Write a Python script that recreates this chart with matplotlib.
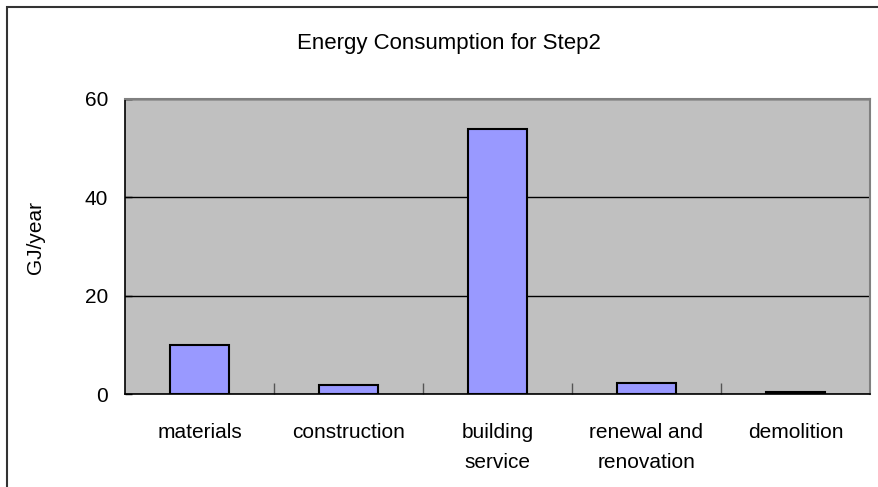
import matplotlib
matplotlib.use("Agg")
import matplotlib.pyplot as plt
from matplotlib.patches import Rectangle
import numpy as np

categories = ["materials", "construction", "building\nservice",
              "renewal and\nrenovation", "demolition"]
energy_gj = [10.0, 1.8, 53.9, 2.3, 0.35]
y_ticks = [0, 20, 40, 60]

plt.rcParams["font.family"] = ["Liberation Sans", "DejaVu Sans"]

W, H = 879, 487
fig = plt.figure(figsize=(W / 100, H / 100), dpi=100)

# outer chart border (right/bottom edges fall outside the crop)
fig.add_artist(Rectangle((7 / W, -0.5), 2.0, 0.5 + (H - 7) / H,
                         transform=fig.transFigure, fill=False,
                         edgecolor="#333333", linewidth=1.5))

ax = fig.add_axes([125 / W, (H - 394) / H, 745 / W, 295 / H])
ax.set_facecolor("#C0C0C0")

x = np.arange(len(categories))
ax.bar(x, energy_gj, width=0.4, color="#9999FF", edgecolor="black",
       linewidth=1.5, zorder=3)

ax.set_xlim(-0.5, len(categories) - 0.5)
ax.set_ylim(0, 60)
ax.set_yticks(y_ticks)
ax.yaxis.grid(True, color="black", linewidth=1)
ax.set_axisbelow(True)

ax.set_xticks(x)
ax.set_xticklabels(categories, fontsize=15, linespacing=1.75, va="top")
ax.set_xticks(np.arange(0.5, len(categories) - 0.5), minor=True)
ax.tick_params(axis="x", which="major", length=0, pad=21)
ax.tick_params(axis="x", which="minor", direction="in", length=8,
               width=1, color="#555555")
ax.tick_params(axis="y", direction="in", length=5, width=1,
               labelsize=15, pad=12)

for side in ("left", "bottom"):
    ax.spines[side].set_color("black")
    ax.spines[side].set_linewidth(1.2)
for side in ("top", "right"):
    ax.spines[side].set_color("#808080")
    ax.spines[side].set_linewidth(1.5)

fig.text(449 / W, 1 - 43 / H, "Energy Consumption for Step2",
         ha="center", va="center", fontsize=16)
ax.set_ylabel("GJ/year", fontsize=15, va="center")
ax.yaxis.set_label_coords((35 - 125) / 745, (394 - 237) / 295)

fig.savefig("out.png", dpi=100)
